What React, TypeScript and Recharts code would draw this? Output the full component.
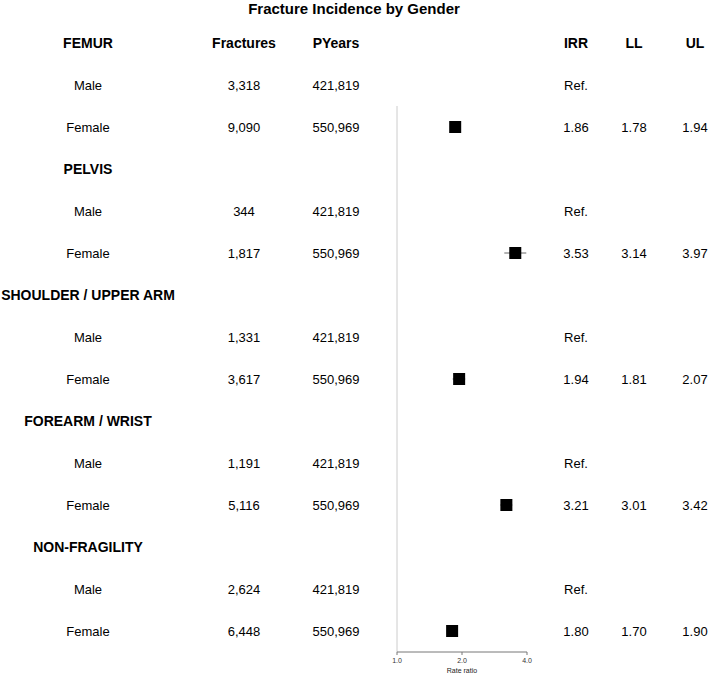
import React from 'react'
import {
  ScatterChart,
  Scatter,
  XAxis,
  YAxis,
  ErrorBar,
  ReferenceLine,
} from 'recharts'

// fracture sites, in the order shown
const sites = ['FEMUR', 'PELVIS', 'SHOULDER / UPPER ARM', 'FOREARM / WRIST', 'NON-FRAGILITY']
const maleFractures = [3318, 344, 1331, 1191, 2624]
const femaleFractures = [9090, 1817, 3617, 5116, 6448]
const malePYears = [421819, 421819, 421819, 421819, 421819]
const femalePYears = [550969, 550969, 550969, 550969, 550969]
const irr = [1.86, 3.53, 1.94, 3.21, 1.8]
const lowerLimit = [1.78, 3.14, 1.81, 3.01, 1.7]
const upperLimit = [1.94, 3.97, 2.07, 3.42, 1.9]
const columnHeaders = ['Fractures', 'PYears', 'IRR', 'LL', 'UL']
const rateTicks = [1, 2, 4]

const font = "'Liberation Sans', Arial, sans-serif"
const fmt = (n: number) => n.toLocaleString('en-US')

interface Row {
  label: string
  bold: boolean
  cols: string[]
}

// one table row per line of the plot: site header, male, female
const rows: Row[] = []
sites.forEach((site, i) => {
  rows.push({ label: site, bold: true, cols: i === 0 ? columnHeaders : [] })
  rows.push({
    label: 'Male',
    bold: false,
    cols: [fmt(maleFractures[i]), fmt(malePYears[i]), 'Ref.'],
  })
  rows.push({
    label: 'Female',
    bold: false,
    cols: [
      fmt(femaleFractures[i]),
      fmt(femalePYears[i]),
      irr[i].toFixed(2),
      lowerLimit[i].toFixed(2),
      upperLimit[i].toFixed(2),
    ],
  })
})

const points = sites.map((_, i) => ({
  x: irr[i],
  y: i * 3 + 2,
  err: [irr[i] - lowerLimit[i], upperLimit[i] - irr[i]],
}))

const rowIndex = rows.map((_, i) => i)
const labelX = 88
const colX = [244, 336, 576, 634, 695]

const RowTick = (props: any) => {
  const { y, payload } = props
  const row = rows[payload.value]
  if (!row) return null
  const size = row.bold ? 14 : 13
  const weight = row.bold ? 'bold' : 'normal'
  return (
    <g>
      <text
        x={labelX}
        y={y}
        dy="0.35em"
        textAnchor="middle"
        fontFamily={font}
        fontSize={size}
        fontWeight={weight}
        fill="#000"
      >
        {row.label}
      </text>
      {row.cols.map((c, j) => (
        <text
          key={j}
          x={colX[j]}
          y={y}
          dy="0.35em"
          textAnchor="middle"
          fontFamily={font}
          fontSize={size}
          fontWeight={weight}
          fill="#000"
        >
          {c}
        </text>
      ))}
    </g>
  )
}

const Square = (props: any) => {
  const { cx, cy } = props
  return <rect x={cx - 6} y={cy - 6} width={12} height={12} fill="#000" />
}

export default function App() {
  return (
    <div style={{ position: 'relative', width: 708, height: 674, background: '#fff' }}>
      <style>{'body{margin:0}'}</style>
      <div
        style={{
          position: 'absolute',
          top: 0,
          left: 0,
          width: 708,
          lineHeight: '17px',
          textAlign: 'center',
          fontFamily: font,
          fontWeight: 'bold',
          fontSize: 15,
        }}
      >
        Fracture Incidence by Gender
      </div>
      <ScatterChart
        width={708}
        height={674}
        margin={{ top: 22, right: 181, bottom: 0, left: 337 }}
      >
        <XAxis
          type="number"
          dataKey="x"
          scale="log"
          domain={[1, 4]}
          ticks={rateTicks}
          allowDataOverflow
          tickFormatter={(v: number) => v.toFixed(1)}
          tick={{ fontSize: 7, fill: '#333', fontFamily: font }}
          tickSize={3}
          tickMargin={3}
          stroke="#777"
          height={22}
          label={{
            value: 'Rate ratio',
            position: 'insideBottom',
            offset: 1,
            fontSize: 7,
            fill: '#222',
            fontFamily: font,
          }}
        />
        <YAxis
          type="number"
          dataKey="y"
          domain={[-0.5, 14.5]}
          reversed
          ticks={rowIndex}
          interval={0}
          width={60}
          axisLine={false}
          tickLine={false}
          tick={<RowTick />}
        />
        <ReferenceLine
          segment={[
            { x: 1, y: 1.5 },
            { x: 1, y: 14.5 },
          ]}
          stroke="#ccc"
          ifOverflow="visible"
        />
        <Scatter data={points} shape={<Square />} isAnimationActive={false}>
          <ErrorBar dataKey="err" direction="x" width={0} stroke="#666" strokeWidth={1} />
        </Scatter>
      </ScatterChart>
    </div>
  )
}
